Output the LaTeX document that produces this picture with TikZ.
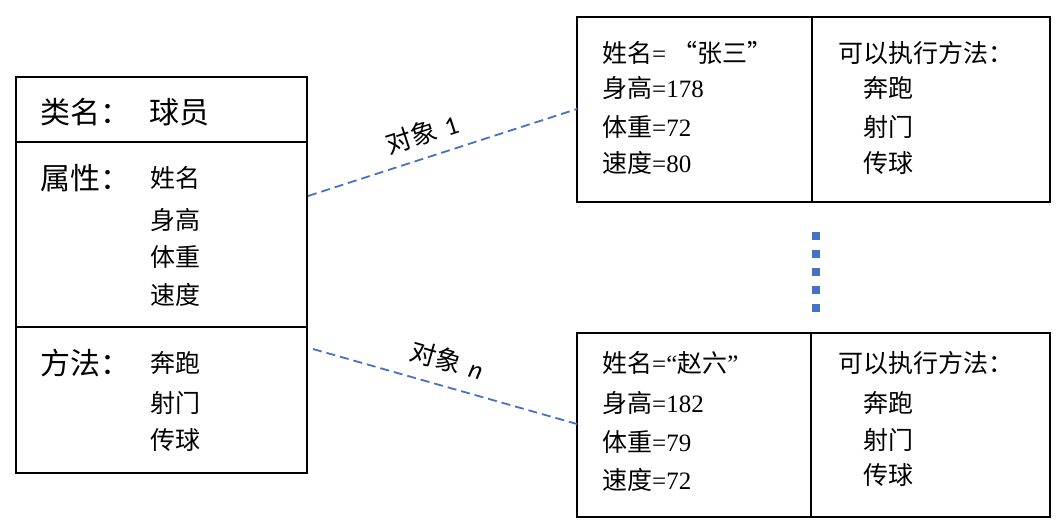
\documentclass[tikz,border=0pt]{standalone}
\usepackage{fontspec}
\setmainfont{Liberation Serif}
\newfontfamily\cjk{Noto Sans CJK SC}
\newfontfamily\lbl{Carlito}
\usepackage{tikz}
\definecolor{linkblue}{HTML}{4472C4}

\begin{document}
\begin{tikzpicture}[
	x=1pt, y=-1pt,
	box/.style={rectangle, draw=black, line width=2pt, inner sep=0pt},
	big/.style={anchor=west, inner sep=0pt, font=\fontsize{30}{35}\selectfont\cjk},
	item/.style={anchor=west, inner sep=0pt, font=\fontsize{25}{29}\selectfont},
	link/.style={draw=linkblue, line width=1.8pt, dash pattern=on 9pt off 5pt},
	objlabel/.style={inner sep=0pt, font=\fontsize{26}{30}\selectfont},
	more/.style={draw=linkblue, line width=8.5pt, dash pattern=on 8.5pt off 9.5pt},
	]
	\useasboundingbox (0,0) rectangle (1059,525);

	% class
	\node[box, minimum width=291pt, minimum height=65pt] at (161.5, 109.5) (cls) {};
	\node[box, minimum width=291pt, minimum height=185pt] at (161.5, 234.5) (attr) {};
	\node[box, minimum width=291pt, minimum height=146pt] at (161.5, 400) (meth) {};

	\node[big] at (40, 112) (clsname) {类名：};
	\node[big] at (149, 112) (clsval) {球员};
	\node[big] at (40, 178) (attrname) {属性：};
	\node[item] at (150, 178) (a1) {\cjk 姓名};
	\node[item] at (150, 220) (a2) {\cjk 身高};
	\node[item] at (150, 257) (a3) {\cjk 体重};
	\node[item] at (150, 295) (a4) {\cjk 速度};
	\node[big] at (40, 363) (methname) {方法：};
	\node[item] at (150, 363) (m1) {\cjk 奔跑};
	\node[item] at (150, 403) (m2) {\cjk 射门};
	\node[item] at (150, 440) (m3) {\cjk 传球};

	% object 1
	\node[box, minimum width=235pt, minimum height=185pt] at (694.5, 109.5) (obj1) {};
	\node[box, minimum width=238pt, minimum height=185pt] at (931, 109.5) (obj1act) {};

	\node[item] at (602, 53) (p1) {{\cjk 姓名}= {\cjk “张三”}};
	\node[item] at (602, 88) (p2) {{\cjk 身高}=178};
	\node[item] at (602, 127) (p3) {{\cjk 体重}=72};
	\node[item] at (602, 163) (p4) {{\cjk 速度}=80};
	\node[item] at (838, 53) (q0) {\cjk 可以执行方法：};
	\node[item] at (863, 88) (q1) {\cjk 奔跑};
	\node[item] at (863, 127) (q2) {\cjk 射门};
	\node[item] at (863, 163) (q3) {\cjk 传球};

	% object n
	\node[box, minimum width=234pt, minimum height=184pt] at (694, 425) (objn) {};
	\node[box, minimum width=239pt, minimum height=184pt] at (930.5, 425) (objnact) {};

	\node[item] at (602, 363) (r1) {{\cjk 姓名}=“{\cjk 赵六}”};
	\node[item] at (602, 403) (r2) {{\cjk 身高}=182};
	\node[item] at (602, 442) (r3) {{\cjk 体重}=79};
	\node[item] at (602, 480) (r4) {{\cjk 速度}=72};
	\node[item] at (838, 363) (s0) {\cjk 可以执行方法：};
	\node[item] at (863, 403) (s1) {\cjk 奔跑};
	\node[item] at (863, 440) (s2) {\cjk 射门};
	\node[item] at (863, 475) (s3) {\cjk 传球};

	% links
	\coordinate (from1) at (308, 196);
	\coordinate (to1) at (577, 109);
	\coordinate (fromn) at (313, 349);
	\coordinate (ton) at (577, 424);
	\draw[link] (from1) -- (to1);
	\draw[link] (fromn) -- (ton);
	\node[objlabel, rotate=18] at (422, 134) (lbl1) {{\cjk 对象}\hspace{0.35em}{\lbl 1}};
	\node[objlabel, rotate=-16] at (447, 360) (lbln) {{\cjk 对象}\hspace{0.35em}{\lbl\itshape n}};

	% more objects
	\coordinate (dtop) at (816, 231.5);
	\coordinate (dbot) at (816, 313);
	\draw[more] (dtop) -- (dbot);
\end{tikzpicture}
\end{document}
